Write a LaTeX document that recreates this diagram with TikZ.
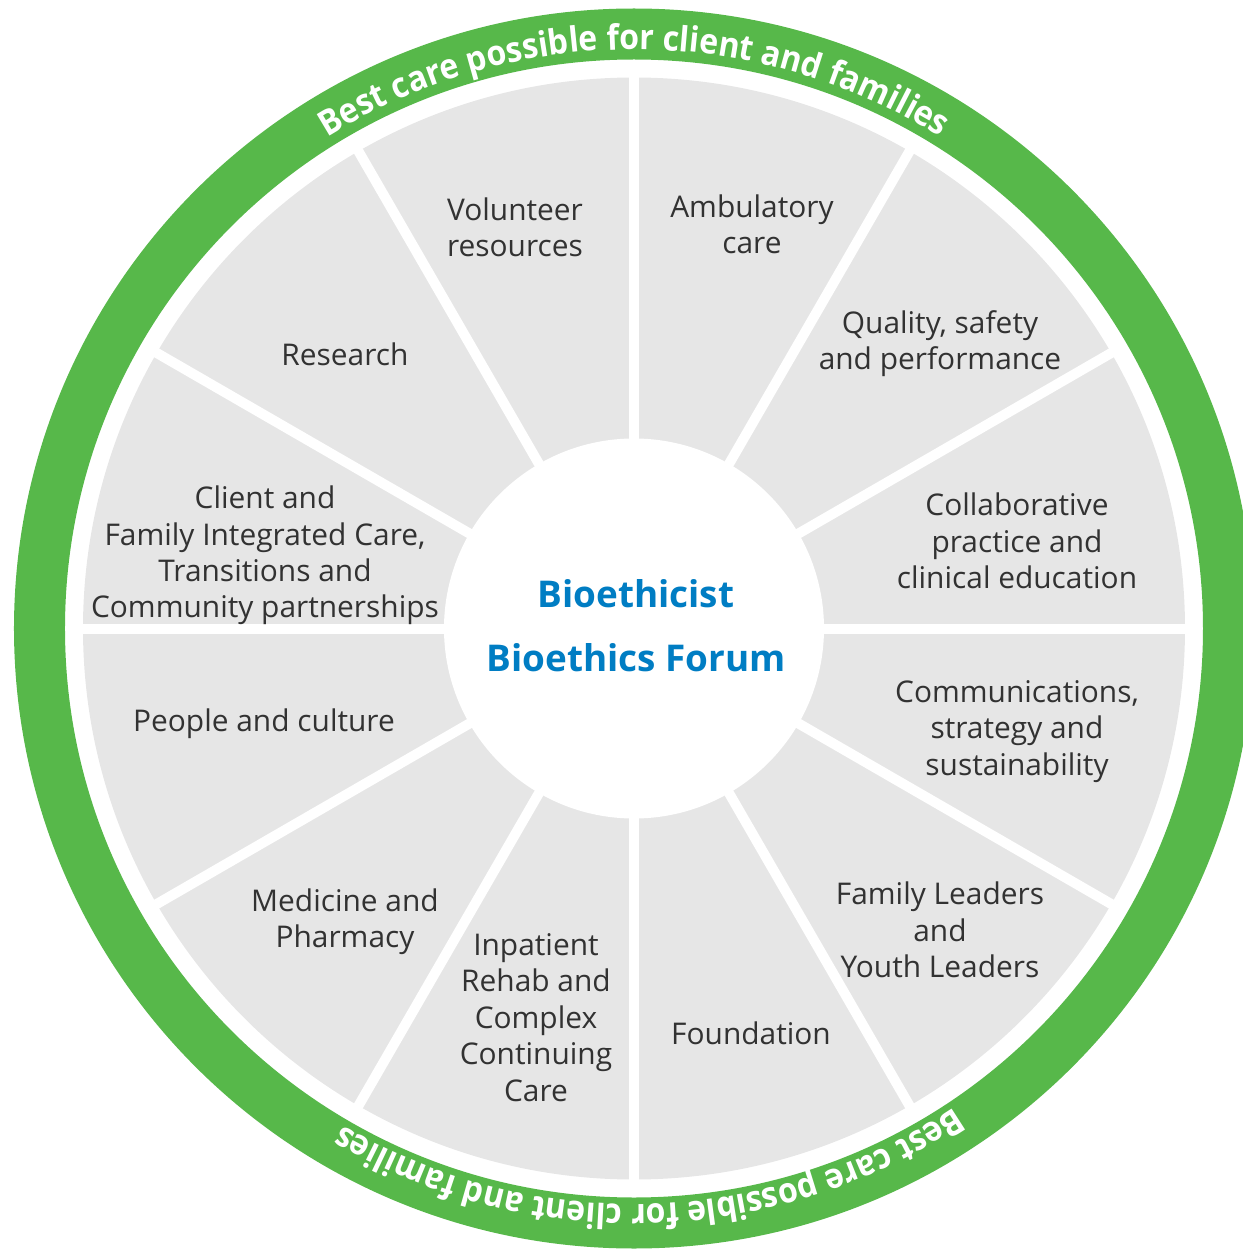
\documentclass[tikz,border=0pt]{standalone}
\usepackage{fontspec}
\setmainfont{Open Sans}
\newfontfamily\ringfont[FakeStretch=0.92]{Open Sans}
\usetikzlibrary{decorations.text}
\definecolor{ringgreen}{RGB}{87,184,74}
\definecolor{sectorgrey}{RGB}{230,230,230}
\definecolor{labeltext}{RGB}{50,50,50}
\definecolor{centerblue}{RGB}{0,125,195}
\begin{document}
\begin{tikzpicture}[x=1bp,y=1bp,
  lbl/.style={text=labeltext, align=center, inner sep=0pt,
    font=\fontsize{30}{36.5}\selectfont},
  ctr/.style={text=centerblue, inner sep=0pt,
    font=\bfseries\fontsize{37}{44}\selectfont},
  sepline/.style={draw=white, line width=10bp},
  ringtext/.style={decorate, decoration={text along path, text align=center,
    text color=white,
    text={|\ringfont\bfseries\fontsize{35}{38}\selectfont|Best care possible for client and families}}}
]
\useasboundingbox (-634,-620.5) rectangle (609,628.5);
% green ring
\fill[ringgreen, even odd rule] (0,0) circle[radius=620] (0,0) circle[radius=569];
% grey disk
\fill[sectorgrey] (0,0) circle[radius=551];
% separators
\foreach \a in {0,30,...,330} \draw[sepline] (0,0) -- (\a:556);
% hub
\node[circle, fill=white, minimum size=380bp, inner sep=0pt] (hub) at (0,0) {};
\node[ctr] (bio1) at (2,34.5) {Bioethicist};
\node[ctr] (bio2) at (2,-29.5) {Bioethics Forum};
% ring texts
\path[ringtext] (150:579) arc[start angle=150, end angle=30, radius=579];
\path[ringtext] (-28.3:576) arc[start angle=-28.3, end angle=-148.3, radius=576];
% labels
\node[lbl] (vol) at (-119,401.5) {Volunteer\\resources};
\node[lbl] (amb) at (118,404.5) {Ambulatory\\care};
\node[lbl] (qua) at (306,285) {Quality, safety\\and performance};
\node[lbl] (col) at (383,87.5) {Collaborative\\practice and\\clinical education};
\node[lbl] (com) at (383,-103) {Communications,\\strategy and\\sustainability};
\node[lbl] (fam) at (306,-301.5) {Family Leaders\\and\\Youth Leaders};
\node[lbl] (fou) at (117,-404.5) {Foundation};
\node[lbl] (inp) at (-98,-389) {Inpatient\\Rehab and\\Complex\\Continuing\\Care};
\node[lbl] (med) at (-289,-293.5) {Medicine and\\Pharmacy};
\node[lbl] (peo) at (-370,-95.5) {People and culture};
\node[lbl] (cli) at (-369,73) {Client and\\Family Integrated Care,\\Transitions and\\Community partnerships};
\node[lbl] (res) at (-289,274.5) {Research};
\end{tikzpicture}
\end{document}
